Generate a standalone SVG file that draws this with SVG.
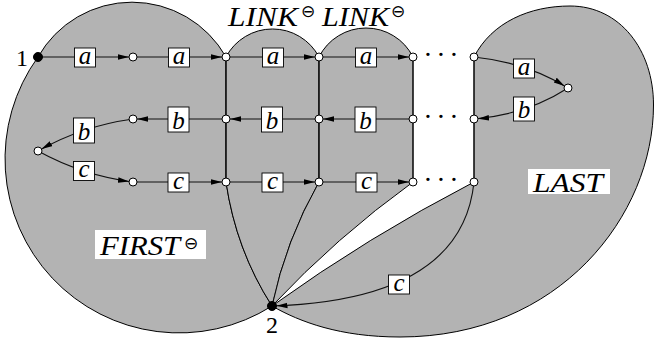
<svg xmlns="http://www.w3.org/2000/svg" width="655" height="341" viewBox="0 0 655 341">
  <style>
    .region { fill: #b3b3b3; stroke: #000; stroke-width: 1; }
    .edge { fill: none; stroke: #111; stroke-width: 1.1; }
    .node { fill: #fff; stroke: #000; stroke-width: 1; }
    .term { fill: #000; stroke: #000; stroke-width: 1; }
    .box { fill: #fff; stroke: #000; stroke-width: 0.9; }
    .lt { font-family: "Liberation Serif", "Times New Roman", serif; font-style: italic; font-size: 25px; text-anchor: middle; fill: #000; }
    .big { font-family: "Liberation Serif", "Times New Roman", serif; font-style: italic; font-size: 27px; fill: #000; }
    .num { font-family: "Liberation Serif", "Times New Roman", serif; font-size: 24px; text-anchor: middle; fill: #000; }
    .sup { font-family: "DejaVu Sans", sans-serif; font-size: 17px; text-anchor: middle; fill: #000; }
    .dots { font-family: "Liberation Serif", "Times New Roman", serif; font-size: 28px; text-anchor: middle; fill: #000; }
  </style>
  <defs>
    <marker id="arr" markerUnits="userSpaceOnUse" markerWidth="20" markerHeight="8" refX="15" refY="3" orient="auto">
      <path d="M0,0.2 L11,3 L0,5.8 Z" fill="#000"/>
    </marker>
    <marker id="arr2" markerUnits="userSpaceOnUse" markerWidth="20" markerHeight="8" refX="15.5" refY="3" orient="auto">
      <path d="M0,0.2 L11,3 L0,5.8 Z" fill="#000"/>
    </marker>
  </defs>

  <!-- shaded regions -->
  <g id="regions">
    <path id="first" class="region" d="M38,57 A108,108 0 0 1 226,57 L226,182 Q236,250 272,306 A174,174 0 0 1 38,57 Z"/>
    <path id="link1" class="region" d="M226,57 A52.6,52.6 0 0 1 319,57 L319,182 Q286,240 272,306 Q236,250 226,182 Z"/>
    <path id="link2" class="region" d="M319,57 A52.6,52.6 0 0 1 413,57 L413,182 Q336.6,237.2 272,306 Q286,240 319,182 Z"/>
    <path id="last" class="region" d="M474,57 C492,22 530,6 570,6 C620,6 653.5,50 653.5,105 C653.5,215 560,337 400,337 C340,337 300,322 272,306 Q368.5,236.7 474,182 Z"/>
  </g>

  <!-- region names -->
  <g id="names">
    <text class="big" x="228" y="26" textLength="70" lengthAdjust="spacingAndGlyphs">LINK</text>
    <text class="sup" x="308" y="16.5">⊖</text>
    <text class="big" x="322" y="26" textLength="67" lengthAdjust="spacingAndGlyphs">LINK</text>
    <text class="sup" x="398" y="16.5">⊖</text>
    <rect x="95" y="230" width="111" height="29" fill="#fff"/>
    <text class="big" x="100" y="255" textLength="80" lengthAdjust="spacingAndGlyphs">FIRST</text>
    <text class="sup" x="191" y="249">⊖</text>
    <rect x="528" y="169" width="82" height="25" fill="#fff"/>
    <text class="big" x="533" y="192" textLength="70" lengthAdjust="spacingAndGlyphs">LAST</text>
  </g>

  <g id="connectors">
    <!-- top row: a -->
    <path class="edge" d="M38,57 L133,57" marker-end="url(#arr)"/>
    <path class="edge" d="M133,57 L226,57" marker-end="url(#arr)"/>
    <path class="edge" d="M226,57 L319,57" marker-end="url(#arr)"/>
    <path class="edge" d="M319,57 L413,57" marker-end="url(#arr)"/>
    <!-- middle row: b -->
    <path class="edge" d="M226,119 L133,119" marker-end="url(#arr)"/>
    <path class="edge" d="M319,119 L226,119" marker-end="url(#arr)"/>
    <path class="edge" d="M413,119 L319,119" marker-end="url(#arr)"/>
    <!-- bottom row: c -->
    <path class="edge" d="M133,182 L226,182" marker-end="url(#arr)"/>
    <path class="edge" d="M226,182 L319,182" marker-end="url(#arr)"/>
    <path class="edge" d="M319,182 L413,182" marker-end="url(#arr)"/>
    <!-- left turn -->
    <path class="edge" d="M133,119 Q82,126 38,151" marker-end="url(#arr)"/>
    <path class="edge" d="M38,151 Q82.5,175.5 133,182" marker-end="url(#arr)"/>
    <!-- right turn -->
    <path class="edge" d="M474,57 Q527,62.5 568,88" marker-end="url(#arr)"/>
    <path class="edge" d="M568,88 Q527,114.5 474,119" marker-end="url(#arr)"/>
    <!-- verticals -->
    <path class="edge" d="M226,57 V182 M319,57 V182 M413,57 V182 M474,57 V182"/>
    <!-- closing edge into 2 -->
    <path class="edge" d="M474,182 Q462,300 272,306" marker-end="url(#arr2)"/>

    <!-- edge labels -->
    <g id="labels">
      <rect class="box" x="74.5" y="48" width="21" height="19"/><text class="lt" x="85" y="63.5">a</text>
      <rect class="box" x="168.5" y="48" width="21" height="19"/><text class="lt" x="179" y="63.5">a</text>
      <rect class="box" x="262.5" y="48" width="21" height="19"/><text class="lt" x="273" y="63.5">a</text>
      <rect class="box" x="355.5" y="48" width="21" height="19"/><text class="lt" x="366" y="63.5">a</text>
      <rect class="box" x="513.5" y="59" width="21" height="19"/><text class="lt" x="524" y="74.5">a</text>

      <rect class="box" x="168" y="107" width="21" height="25"/><text class="lt" x="178.5" y="128.5">b</text>
      <rect class="box" x="261.5" y="107" width="21" height="25"/><text class="lt" x="272" y="128.5">b</text>
      <rect class="box" x="355" y="107" width="21" height="25"/><text class="lt" x="365.5" y="128.5">b</text>
      <rect class="box" x="73.5" y="118" width="21" height="25"/><text class="lt" x="84" y="139.5">b</text>
      <rect class="box" x="513.5" y="97" width="21" height="24"/><text class="lt" x="524" y="117.5">b</text>

      <rect class="box" x="168" y="173" width="21" height="19"/><text class="lt" x="178.5" y="188.5">c</text>
      <rect class="box" x="262" y="173" width="21" height="19"/><text class="lt" x="272.5" y="188.5">c</text>
      <rect class="box" x="356" y="173" width="21" height="19"/><text class="lt" x="366.5" y="188.5">c</text>
      <rect class="box" x="73.5" y="161.5" width="21" height="19"/><text class="lt" x="84" y="177">c</text>
      <rect class="box" x="388.5" y="275" width="21" height="19"/><text class="lt" x="399" y="290.5">c</text>
    </g>

    <!-- elided middle part -->
    <text class="dots" x="428 441 454" y="64">···</text>
    <text class="dots" x="428 441 454" y="126">···</text>
    <text class="dots" x="428 441 454" y="189">···</text>
  </g>

  <!-- vertices -->
  <g id="v1"><circle class="term" cx="38" cy="57" r="4.5"/><text class="num" x="22" y="66">1</text></g>
  <g id="v2"><circle class="term" cx="272" cy="306" r="4.5"/><text class="num" x="272" y="333">2</text></g>
  <g id="t1"><circle class="node" cx="133" cy="57" r="4"/></g>
  <g id="t2"><circle class="node" cx="226" cy="57" r="4"/></g>
  <g id="t3"><circle class="node" cx="319" cy="57" r="4"/></g>
  <g id="t4"><circle class="node" cx="413" cy="57" r="4"/></g>
  <g id="t5"><circle class="node" cx="474" cy="57" r="4"/></g>
  <g id="tip"><circle class="node" cx="568" cy="88" r="4"/></g>
  <g id="m1"><circle class="node" cx="133" cy="119" r="4"/></g>
  <g id="m2"><circle class="node" cx="226" cy="119" r="4"/></g>
  <g id="m3"><circle class="node" cx="319" cy="119" r="4"/></g>
  <g id="m4"><circle class="node" cx="413" cy="119" r="4"/></g>
  <g id="m5"><circle class="node" cx="474" cy="119" r="4"/></g>
  <g id="turn"><circle class="node" cx="38" cy="151" r="4"/></g>
  <g id="b1"><circle class="node" cx="133" cy="182" r="4"/></g>
  <g id="b2"><circle class="node" cx="226" cy="182" r="4"/></g>
  <g id="b3"><circle class="node" cx="319" cy="182" r="4"/></g>
  <g id="b4"><circle class="node" cx="413" cy="182" r="4"/></g>
  <g id="b5"><circle class="node" cx="474" cy="182" r="4"/></g>
</svg>
